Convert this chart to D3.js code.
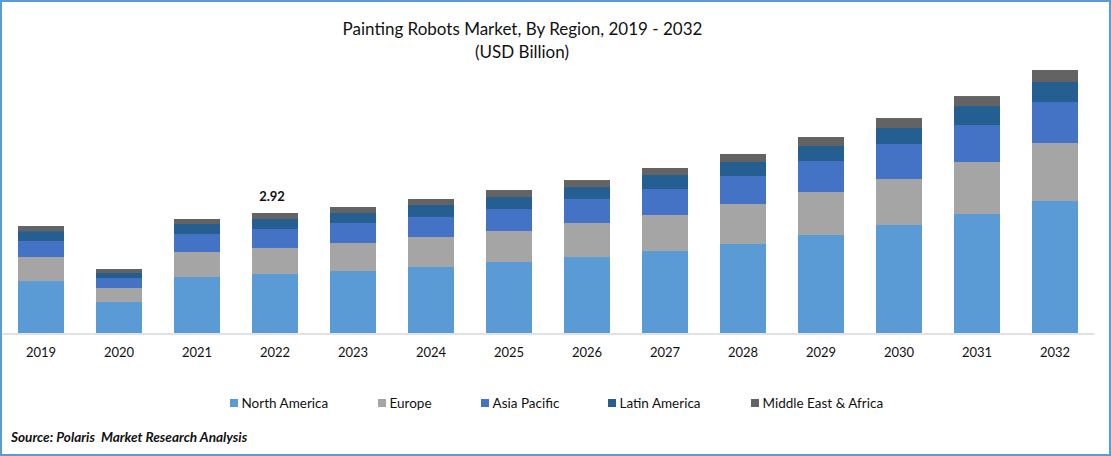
<!DOCTYPE html>
<html><head><meta charset="utf-8">
<script src="https://cdn.jsdelivr.net/npm/d3@7/dist/d3.min.js"></script>
<style>
html,body{margin:0;padding:0;background:#fff}
svg{display:block}
text{font-family:Lato,"Open Sans",sans-serif;fill:#111}
</style></head><body>
<svg id="c" width="1111" height="456"></svg>
<script>
const years=["2019","2020","2021","2022","2023","2024","2025","2026","2027","2028","2029","2030","2031","2032"];
const regions=["North America","Europe","Asia Pacific","Latin America","Middle East & Africa"];
const northAmerica=[1.265,0.754,1.363,1.436,1.509,1.606,1.728,1.849,1.995,2.166,2.385,2.628,2.896,3.212];
const europe=[0.584,0.341,0.608,0.633,0.681,0.730,0.754,0.827,0.876,0.973,1.046,1.119,1.265,1.411];
const asiaPacific=[0.389,0.243,0.438,0.462,0.487,0.487,0.535,0.584,0.633,0.681,0.754,0.852,0.900,0.998];
const latinAmerica=[0.243,0.122,0.243,0.243,0.243,0.292,0.292,0.292,0.341,0.341,0.365,0.389,0.462,0.487];
const middleEastAfrica=[0.122,0.097,0.122,0.146,0.146,0.146,0.170,0.170,0.170,0.195,0.219,0.243,0.243,0.292];
const colors=["#5b9bd5","#a5a5a5","#4472c4","#255e91","#636363"];
const annotation={year:"2022",label:"2.92"};

const seriesValues=[northAmerica,europe,asiaPacific,latinAmerica,middleEastAfrica];
const rows=years.map((y,i)=>{const r={year:y};regions.forEach((n,k)=>r[n]=seriesValues[k][i]);return r;});
const stacked=d3.stack().keys(regions)(rows);

const svg=d3.select("#c");
const x=d3.scaleBand().domain(years).range([2,1094]).paddingInner(32/78).paddingOuter(16/78);
const y=d3.scaleLinear().domain([0,2.92]).range([333,213]);

svg.append("rect").attr("x",1).attr("y",1).attr("width",1109).attr("height",454)
  .attr("fill","#fff").attr("stroke","#5b9bd5").attr("stroke-width",2);

svg.append("g").selectAll("g").data(stacked).join("g").attr("fill",(d,i)=>colors[i])
  .selectAll("rect").data(d=>d).join("rect")
  .attr("x",d=>x(d.data.year)).attr("width",x.bandwidth())
  .attr("y",d=>y(d[1])).attr("height",d=>y(d[0])-y(d[1]));

const axis=svg.append("g").attr("transform","translate(0,333.5)")
  .call(d3.axisBottom(x).tickSize(0).tickPadding(14).tickSizeOuter(0));
axis.select(".domain").attr("stroke","#d9d9d9").attr("stroke-width",1.5);
axis.selectAll("text").attr("font-size",13).style("font-family","Lato").attr("fill","#111");

const total=d3.sum(seriesValues,s=>s[years.indexOf(annotation.year)]);
svg.append("text").attr("x",x(annotation.year)+x.bandwidth()/2-3).attr("y",y(total)-12)
  .attr("text-anchor","middle").attr("font-size",13).attr("font-weight",700).text(annotation.label);

svg.append("text").attr("x",522.5).attr("y",35).attr("text-anchor","middle").attr("font-size",17).text("Painting Robots Market, By Region, 2019 - 2032");
svg.append("text").attr("x",522).attr("y",58).attr("text-anchor","middle").attr("font-size",17).text("(USD Billion)");

const legendX=[230,378,481,608,751];
const legend=svg.append("g").selectAll("g").data(regions).join("g")
  .attr("transform",(d,i)=>`translate(${legendX[i]},399)`);
legend.append("rect").attr("width",8).attr("height",8).attr("fill",(d,i)=>colors[i]);
legend.append("text").attr("x",11.5).attr("y",8.5).attr("font-size",13.5).text(d=>d);

svg.append("text").attr("x",11).attr("y",442).attr("font-size",13.6).attr("font-weight",700).attr("font-style","italic").attr("xml:space","preserve").style("white-space","pre").text("Source: Polaris  Market Research Analysis");
</script></body></html>
